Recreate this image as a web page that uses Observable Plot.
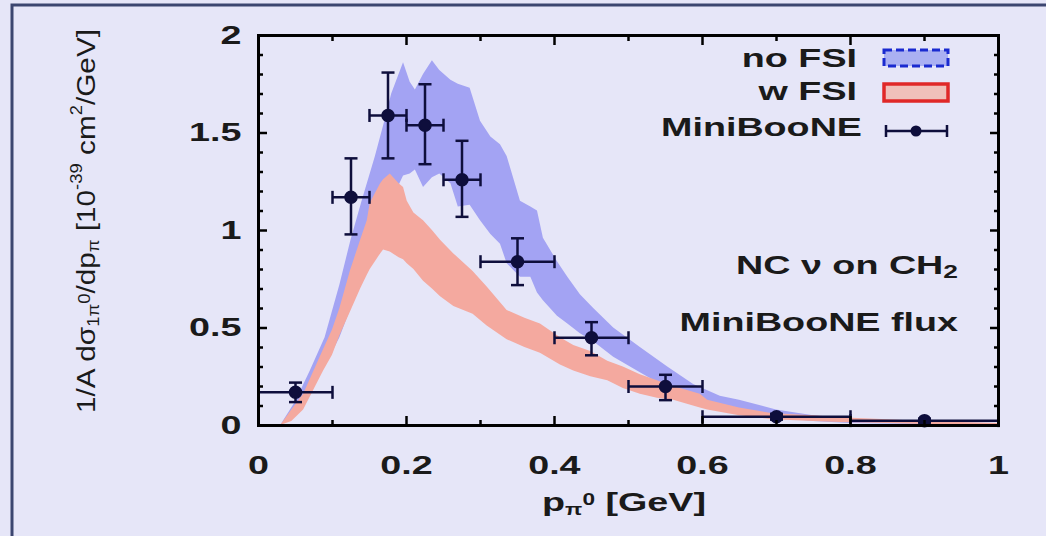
<!DOCTYPE html>
<html>
<head>
<meta charset="utf-8">
<script src="https://cdn.jsdelivr.net/npm/d3@7"></script>
<script src="https://cdn.jsdelivr.net/npm/@observablehq/plot@0.6"></script>
<style>
  html, body { margin: 0; padding: 0; background: #e6e6f8; overflow: hidden; }
  #chart { width: 1046px; height: 536px; }
  #chart svg { display: block; }
</style>
</head>
<body>
<div id="chart"></div>
<script>
// ---- no FSI band (blue) ----
const noFsiX  = [0.03,0.05,0.07,0.09,0.11,0.125,0.14,0.158,0.17,0.18,0.196,0.205,0.212,0.223,0.235,0.245,0.26,0.27,0.286,0.3,0.314,0.327,0.336,0.354,0.368,0.377,0.385,0.404,0.418,0.435,0.453,0.48,0.516,0.553,0.588,0.624,0.65,0.7,0.75,0.8,0.9,1.0];
const noFsiLo = [0,0.08,0.2,0.3,0.45,0.6,0.8,0.95,1.05,1.15,1.28,1.29,1.31,1.22,1.27,1.29,1.24,1.12,1.13,1.05,0.98,0.93,0.83,0.76,0.76,0.68,0.64,0.56,0.52,0.47,0.43,0.35,0.27,0.19,0.13,0.09,0.07,0.04,0.02,0.01,0.005,0];
const noFsiHi = [0,0.12,0.28,0.45,0.72,0.95,1.15,1.38,1.55,1.7,1.86,1.76,1.72,1.8,1.87,1.82,1.77,1.75,1.73,1.56,1.48,1.44,1.38,1.15,1.12,1.10,0.96,0.84,0.76,0.67,0.60,0.50,0.40,0.30,0.21,0.15,0.13,0.08,0.05,0.03,0.015,0.01];

// ---- w FSI band (red) ----
const wFsiX  = [0.03,0.045,0.061,0.088,0.1,0.11,0.124,0.138,0.147,0.151,0.165,0.169,0.178,0.19,0.196,0.201,0.21,0.223,0.235,0.246,0.264,0.29,0.309,0.336,0.36,0.381,0.408,0.426,0.449,0.472,0.493,0.516,0.539,0.561,0.597,0.607,0.65,0.696,0.75,0.786,0.85,0.9,1.0];
const wFsiLo = [0,0.02,0.08,0.28,0.36,0.46,0.58,0.7,0.77,0.8,0.88,0.9,0.89,0.86,0.85,0.83,0.8,0.74,0.7,0.66,0.61,0.57,0.51,0.44,0.4,0.37,0.31,0.28,0.25,0.23,0.19,0.16,0.14,0.13,0.09,0.08,0.05,0.03,0.02,0.015,0.01,0.005,0];
const wFsiHi = [0,0.08,0.16,0.39,0.49,0.6,0.79,0.95,1.05,1.14,1.24,1.26,1.29,1.24,1.22,1.15,1.09,1.05,1.0,0.95,0.88,0.79,0.71,0.59,0.55,0.52,0.45,0.41,0.38,0.33,0.30,0.26,0.23,0.2,0.16,0.13,0.09,0.06,0.05,0.04,0.03,0.02,0.01];

// ---- MiniBooNE data ----
const mbX   = [0.05,0.125,0.175,0.225,0.275,0.35,0.45,0.55,0.7,0.9];
const mbXLo = [0,0.1,0.15,0.2,0.25,0.3,0.4,0.5,0.6,0.8];
const mbXHi = [0.1,0.15,0.2,0.25,0.3,0.4,0.5,0.6,0.8,1.0];
const mbY   = [0.17,1.17,1.59,1.54,1.26,0.84,0.45,0.2,0.045,0.025];
const mbYLo = [0.12,0.98,1.37,1.34,1.07,0.72,0.36,0.13,0.03,0.015];
const mbYHi = [0.22,1.37,1.81,1.75,1.46,0.96,0.53,0.26,0.06,0.035];

// ---- ticks ----
const xMajor = [0,0.2,0.4,0.6,0.8,1];
const xMajorLabels = ["0","0.2","0.4","0.6","0.8","1"];
const xMinor = [0.1,0.3,0.5,0.7,0.9];
const yMajor = [0,0.5,1,1.5,2];
const yMajorLabels = ["0","0.5","1","1.5","2"];
const yMinor = [0.1,0.2,0.3,0.4,0.6,0.7,0.8,0.9,1.1,1.2,1.3,1.4,1.6,1.7,1.8,1.9];

const FONT = "'Liberation Sans', Arial, Helvetica, sans-serif";
const NAVY = "#0e0e3c";
const TXT = "#1a1a1a";
const SX = 1.45;
const FS = 26;

const noFsi = noFsiX.map((x, i) => ({x, lo: noFsiLo[i], hi: noFsiHi[i]}));
const wFsi = wFsiX.map((x, i) => ({x, lo: wFsiLo[i], hi: wFsiHi[i]}));
const mb = mbX.map((x, i) => ({x, xlo: mbXLo[i], xhi: mbXHi[i], y: mbY[i], ylo: mbYLo[i], yhi: mbYHi[i]}));

const capV = {draw(ctx, size) { const r = Math.sqrt(size / Math.PI); ctx.moveTo(0, -r); ctx.lineTo(0, r); }};
const capH = {draw(ctx, size) { const r = Math.sqrt(size / Math.PI); ctx.moveTo(-r, 0); ctx.lineTo(r, 0); }};

const plot = Plot.plot({
  width: 1046, height: 536,
  marginLeft: 258, marginRight: 48, marginTop: 35, marginBottom: 111,
  style: {background: "transparent", fontFamily: FONT, overflow: "visible"},
  x: {domain: [0, 1]},
  y: {domain: [0, 2]},
  marks: [
    Plot.areaY(noFsi, {x: "x", y1: "lo", y2: "hi", fill: "#a3a3f3"}),
    Plot.areaY(wFsi, {x: "x", y1: "lo", y2: "hi", fill: "#f4a99f"}),
    Plot.link(mb, {x1: "xlo", x2: "xhi", y1: "y", y2: "y", stroke: NAVY, strokeWidth: 2.5}),
    Plot.link(mb, {x1: "x", x2: "x", y1: "ylo", y2: "yhi", stroke: NAVY, strokeWidth: 2.5}),
    Plot.dot(mb, {x: "xlo", y: "y", symbol: capV, r: 6.5, fill: "none", stroke: NAVY, strokeWidth: 2.5}),
    Plot.dot(mb, {x: "xhi", y: "y", symbol: capV, r: 6.5, fill: "none", stroke: NAVY, strokeWidth: 2.5}),
    Plot.dot(mb, {x: "x", y: "ylo", symbol: capH, r: 6.5, fill: "none", stroke: NAVY, strokeWidth: 2.5}),
    Plot.dot(mb, {x: "x", y: "yhi", symbol: capH, r: 6.5, fill: "none", stroke: NAVY, strokeWidth: 2.5}),
    Plot.dot(mb, {x: "x", y: "y", r: 6, fill: NAVY, stroke: NAVY}),
    // tick marks (inward)
    Plot.axisX(xMajor, {anchor: "bottom", tickSize: -9, fill: "none", stroke: "black", strokeWidth: 2.5, label: null}),
    Plot.axisX(xMinor, {anchor: "bottom", tickSize: -5, fill: "none", stroke: "black", strokeWidth: 2.5, label: null}),
    Plot.axisX(xMajor, {anchor: "top", tickSize: -9, fill: "none", stroke: "black", strokeWidth: 2.5, label: null}),
    Plot.axisX(xMinor, {anchor: "top", tickSize: -5, fill: "none", stroke: "black", strokeWidth: 2.5, label: null}),
    Plot.axisY(yMajor, {anchor: "left", tickSize: -9, fill: "none", stroke: "black", strokeWidth: 2.5, label: null}),
    Plot.axisY(yMinor, {anchor: "left", tickSize: -5, fill: "none", stroke: "black", strokeWidth: 2.5, label: null}),
    Plot.axisY(yMajor, {anchor: "right", tickSize: -9, fill: "none", stroke: "black", strokeWidth: 2.5, label: null}),
    Plot.axisY(yMinor, {anchor: "right", tickSize: -5, fill: "none", stroke: "black", strokeWidth: 2.5, label: null}),
    // tick labels
    Plot.axisX(xMajor, {anchor: "bottom", tickSize: 0, tickPadding: 30, tickFormat: d => xMajorLabels[xMajor.indexOf(d)], fontSize: FS, fontWeight: "bold", fill: TXT, label: null}),
    Plot.axisY(yMajor, {anchor: "left", tickSize: 0, tickPadding: 17, tickFormat: d => yMajorLabels[yMajor.indexOf(d)], fontSize: FS, fontWeight: "bold", fill: TXT, label: null}),
    Plot.frame({stroke: "black", strokeWidth: 3})
  ]
});

document.getElementById("chart").appendChild(plot);
const svg = d3.select(plot);

// stretch tick labels horizontally about their anchor (reference is horizontally stretched)
svg.selectAll("g[aria-label$='tick label'] text").nodes().forEach(node => {
  const r = node.getBoundingClientRect();
  const anchor = getComputedStyle(node).textAnchor;
  const ax = anchor === "end" ? r.right : anchor === "middle" ? r.left + r.width / 2 : r.left;
  const m = node.parentNode.getScreenCTM();
  const lx = (ax - m.e) / m.a;
  const g = document.createElementNS("http://www.w3.org/2000/svg", "g");
  g.setAttribute("transform", `translate(${lx},0) scale(${SX},1) translate(${-lx},0)`);
  node.parentNode.insertBefore(g, node);
  g.appendChild(node);
});

// rich text helper: parts = [[string, shiftUp(px), sizeFactor]]
function richText(parent, parts, {transform, anchor = "start", size = FS, weight = "bold", baseline = "central", textLength = null}) {
  const t = parent.append("text")
    .attr("transform", transform)
    .attr("text-anchor", anchor)
    .attr("dominant-baseline", baseline)
    .attr("font-family", FONT)
    .attr("font-size", size)
    .attr("font-weight", weight)
    .attr("fill", TXT);
  let cur = 0;
  for (const [s, shift, f] of parts) {
    const ts = t.append("tspan").text(s).attr("font-size", size * (f || 1));
    const dy = -(shift || 0) + cur;
    if (dy !== 0) ts.attr("dy", dy);
    cur = shift || 0;
  }
  if (textLength) t.attr("textLength", textLength).attr("lengthAdjust", "spacingAndGlyphs");
  return t;
}

const deco = svg.append("g");

// outer slide border
deco.append("path").attr("d", "M12,536 L12,5 L1046,5").attr("fill", "none").attr("stroke", "#3c4670").attr("stroke-width", 3);

// legend
const lg = deco.append("g");
richText(lg, [["no FSI"]], {transform: `translate(857,58) scale(${SX},1)`, anchor: "end"});
richText(lg, [["w FSI"]], {transform: `translate(857,91) scale(${SX},1)`, anchor: "end"});
richText(lg, [["MiniBooNE"]], {transform: `translate(862,127) scale(${SX},1)`, anchor: "end"});
lg.append("rect").attr("x", 884).attr("y", 50).attr("width", 64).attr("height", 16)
  .attr("fill", "#aab0f2").attr("stroke", "#1a2ad0").attr("stroke-width", 3).attr("stroke-dasharray", "8,4");
lg.append("rect").attr("x", 884).attr("y", 84).attr("width", 64).attr("height", 17)
  .attr("fill", "#f0c0ba").attr("stroke", "#e02828").attr("stroke-width", 3.5);
lg.append("path").attr("d", "M886,131 L947,131 M886,125 L886,137 M947,125 L947,137")
  .attr("stroke", NAVY).attr("stroke-width", 2.5).attr("fill", "none");
lg.append("circle").attr("cx", 916).attr("cy", 131).attr("r", 5.5).attr("fill", NAVY);

// annotations
richText(deco, [["NC ν on CH"], ["2", -7, 0.7]], {transform: `translate(958,265) scale(${SX},1)`, anchor: "end"});
richText(deco, [["MiniBooNE flux"]], {transform: `translate(958,322) scale(${SX},1)`, anchor: "end"});

// x axis label
richText(deco, [["p"], ["π", -7, 0.6], ["0", 3, 0.6], [" [GeV]"]], {transform: `translate(624,502) scale(${SX},1)`, anchor: "middle", weight: "bold"});

// y axis label
richText(deco, [["1/A dσ"], ["1π", -7, 0.62], ["0", 2, 0.62], ["/dp"], ["π", -7, 0.62], [" [10"], ["-39", 10, 0.62], [" cm"], ["2", 10, 0.62], ["/GeV]"]],
  {transform: `translate(86,221) rotate(-90)`, anchor: "middle", weight: "normal", size: 26, textLength: 384});
</script>
</body>
</html>
